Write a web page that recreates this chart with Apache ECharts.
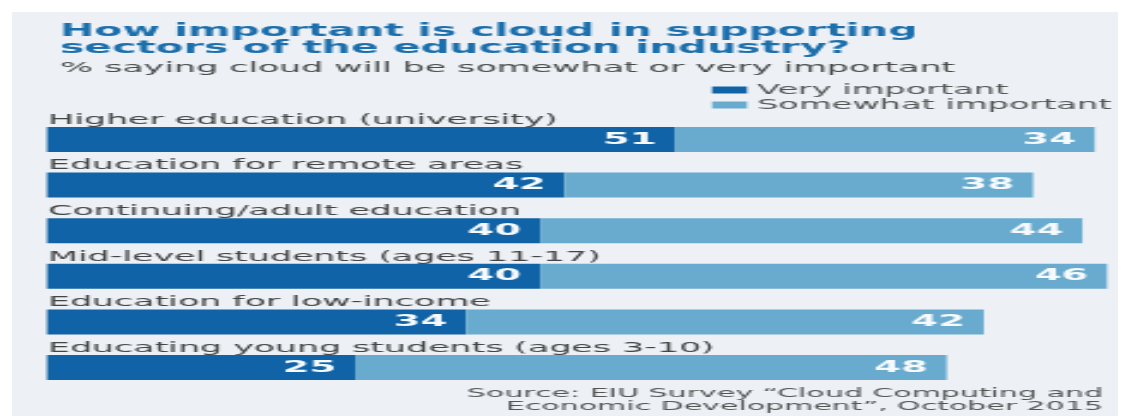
<!DOCTYPE html>
<html>
<head>
<meta charset="utf-8">
<script src="https://cdn.jsdelivr.net/npm/echarts@6/dist/echarts.min.js"></script>
<style>
  html, body { margin: 0; padding: 0; background: #ffffff; }
  body { width: 1135px; height: 416px; position: relative; overflow: hidden; }
  #panel { position: absolute; left: 12px; top: 12px; width: 1106px; height: 404px; background: #edf1f5; }
  /* the chart is laid out on a narrow canvas and widened, giving the extended lettering */
  #chart { position: absolute; left: 0; top: 0; width: 473px; height: 416px; transform-origin: 0 0; }
</style>
</head>
<body>
<div id="panel"></div>
<div id="chart"></div>
<script>
// Survey answers per education sector (%)
const categories = [
  'Higher education (university)',
  'Education for remote areas',
  'Continuing/adult education',
  'Mid-level students (ages 11-17)',
  'Education for low-income',
  'Educating young students (ages 3-10)'
];
const veryImportant = [51, 42, 40, 40, 34, 25];
const somewhatImportant = [34, 38, 44, 46, 42, 48];
const seriesNames = ['Very important', 'Somewhat important'];

const titleText = 'How important is cloud in supporting\nsectors of the education industry?';
const subtitleText = '% saying cloud will be somewhat or very important';
const sourceText = 'Source: EIU Survey \u201cCloud Computing and\nEconomic Development\u201d, October 2015';

const PAGE_W = 1135;
const dom = document.getElementById('chart');
const INNER_W = dom.clientWidth;
const SX = PAGE_W / INNER_W;
dom.style.transform = 'scaleX(' + SX + ')';
const ix = v => v / SX;   // page px -> inner px (horizontal only)

const chart = echarts.init(dom, null, { renderer: 'canvas' });

const DARK = '#0f63a6';
const LIGHT = '#69abcf';
const FONT = 'DejaVu Sans';

const valueLabel = {
  show: true,
  position: 'insideRight',
  distance: ix(19),
  color: '#f7fafc',
  fontFamily: FONT,
  fontSize: 16,
  fontWeight: 'bold'
};

chart.setOption({
  animation: false,
  backgroundColor: 'transparent',
  color: [DARK, LIGHT],
  title: [
    {
      text: titleText,
      left: ix(48),
      top: 18,
      textStyle: { fontFamily: FONT, fontSize: 17, fontWeight: 'bold', color: '#1c6fad', lineHeight: 17 }
    },
    {
      text: subtitleText,
      left: ix(48),
      top: 55,
      textStyle: { fontFamily: FONT, fontSize: 14.5, fontWeight: 'normal', color: '#4a4a4a', lineHeight: 16 }
    },
    {
      text: sourceText,
      left: ix(1091),
      textAlign: 'right',
      top: 382,
      textStyle: { fontFamily: FONT, fontSize: 12.5, fontWeight: 'normal', color: '#555555', lineHeight: 13 }
    }
  ],
  legend: {
    orient: 'vertical',
    left: ix(700),
    top: 77.5,
    itemWidth: ix(35),
    itemHeight: 7,
    itemGap: 0,
    icon: 'rect',
    data: seriesNames,
    textStyle: { fontFamily: FONT, fontSize: 14, color: '#555555', lineHeight: 15, padding: [0, 0, 0, ix(10) - 5] }
  },
  grid: {
    left: ix(47),
    right: INNER_W - ix(1107),
    top: 116.7,
    bottom: 25.7,
    containLabel: false
  },
  xAxis: {
    type: 'value',
    min: 0,
    max: 86,
    show: false
  },
  yAxis: {
    type: 'category',
    data: categories,
    inverse: true,
    z: 5,
    axisLine: { show: false },
    axisTick: { show: false },
    splitLine: { show: false },
    axisLabel: {
      inside: true,
      interval: 0,
      hideOverlap: false,
      margin: ix(1),
      align: 'left',
      verticalAlign: 'middle',
      // second (blank) line pushes each name up into the gap above its bar
      formatter: name => name + '\n ',
      lineHeight: 39,
      fontFamily: FONT,
      fontSize: 14.5,
      color: '#444444'
    }
  },
  series: [
    {
      name: seriesNames[0],
      type: 'bar',
      stack: 'share',
      barWidth: 25,
      data: veryImportant,
      itemStyle: { color: DARK },
      label: valueLabel
    },
    {
      name: seriesNames[1],
      type: 'bar',
      stack: 'share',
      barWidth: 25,
      data: somewhatImportant,
      itemStyle: { color: LIGHT },
      label: valueLabel
    }
  ]
});
</script>
</body>
</html>
